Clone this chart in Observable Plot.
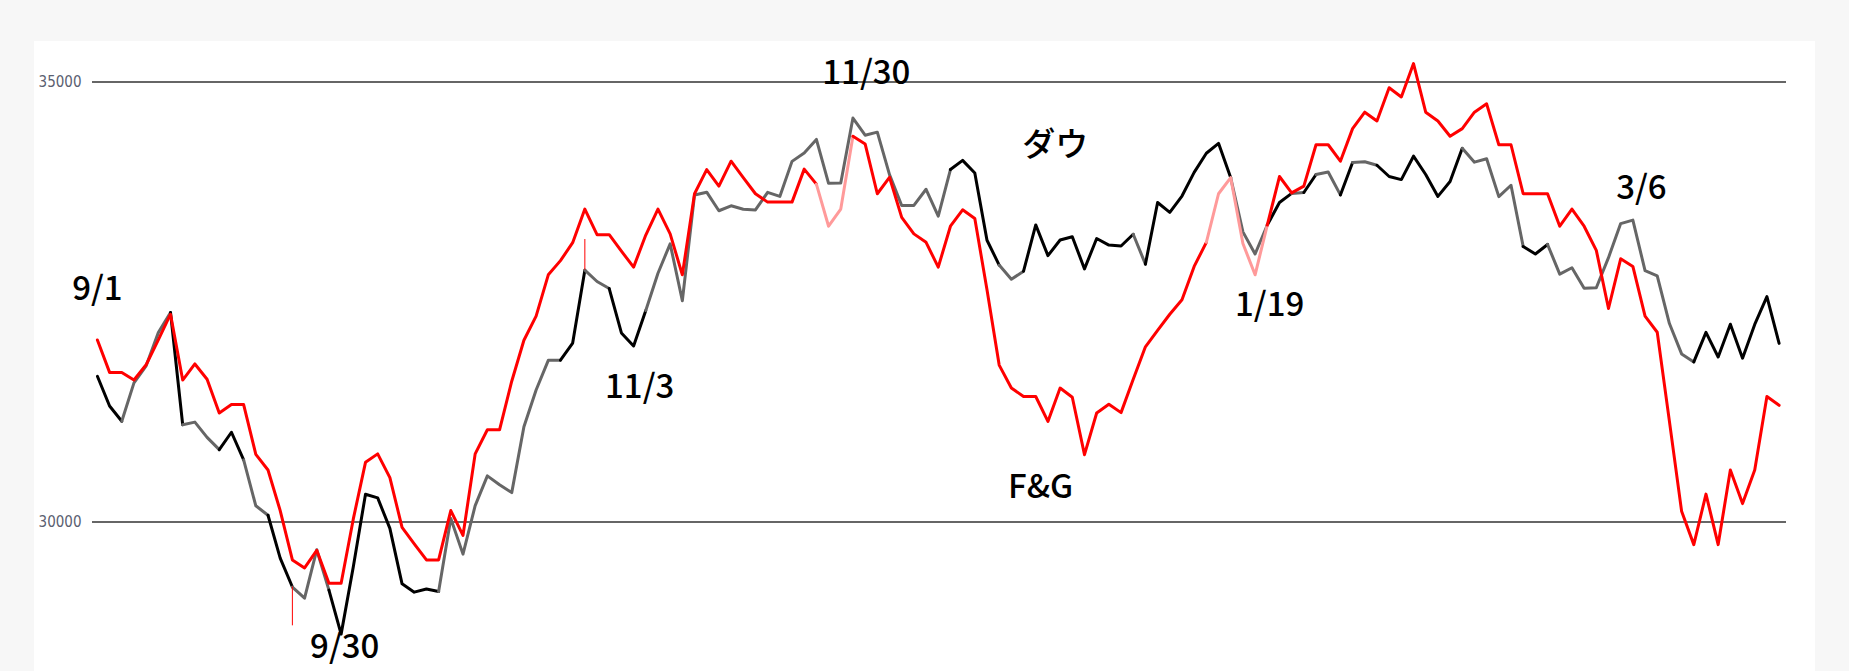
<!DOCTYPE html>
<html><head><meta charset="utf-8">
<script src="https://cdn.jsdelivr.net/npm/d3@7"></script>
<script src="https://cdn.jsdelivr.net/npm/@observablehq/plot@0.6"></script>
<style>
html,body{margin:0;padding:0;background:#f7f7f7;width:1849px;height:671px;overflow:hidden}
#panel{position:absolute;left:34px;top:41px;width:1781px;height:630px;background:#fff}
#chart{position:absolute;left:0;top:0}
</style></head><body><div id="panel"></div><div id="chart"></div>
<script>
// Trading days 2022-09-01 .. 2023-03-22
const dates = [
"9/1","9/2","9/6","9/7","9/8","9/9","9/12","9/13","9/14","9/15","9/16","9/19","9/20","9/21","9/22","9/23","9/26","9/27","9/28","9/29","9/30",
"10/3","10/4","10/5","10/6","10/7","10/10","10/11","10/12","10/13","10/14","10/17","10/18","10/19","10/20","10/21","10/24","10/25","10/26","10/27","10/28","10/31",
"11/1","11/2","11/3","11/4","11/7","11/8","11/9","11/10","11/11","11/14","11/15","11/16","11/17","11/18","11/21","11/22","11/23","11/25","11/28","11/29","11/30",
"12/1","12/2","12/5","12/6","12/7","12/8","12/9","12/12","12/13","12/14","12/15","12/16","12/19","12/20","12/21","12/22","12/23","12/27","12/28","12/29","12/30",
"1/3","1/4","1/5","1/6","1/9","1/10","1/11","1/12","1/13","1/17","1/18","1/19","1/20","1/23","1/24","1/25","1/26","1/27","1/30","1/31",
"2/1","2/2","2/3","2/6","2/7","2/8","2/9","2/10","2/13","2/14","2/15","2/16","2/17","2/21","2/22","2/23","2/24","2/27","2/28",
"3/1","3/2","3/3","3/6","3/7","3/8","3/9","3/10","3/13","3/14","3/15","3/16","3/17","3/20","3/21","3/22"];

// ダウ (Dow close)
const dow = [
31656,31318,31145,31581,31775,32152,32381,31105,31135,30962,30822,31020,30706,30184,30077,29590,29261,29135,29684,29226,28726,
29491,30316,30274,29927,29297,29203,29239,29211,30039,29635,30186,30524,30424,30334,31083,31500,31837,31839,32033,32862,32733,
32653,32148,32001,32403,32827,33161,32514,33715,33748,33537,33593,33554,33546,33746,33700,34098,34194,34347,33849,33853,34590,
34395,34430,33947,33596,33598,33781,33476,34005,34109,33966,33202,32920,32758,32850,33376,33027,33204,33242,32876,33221,33147,
33136,33270,32930,33631,33518,33704,33973,34190,34303,33911,33297,33045,33375,33630,33734,33744,33949,33978,33717,34086,
34093,34054,33926,33891,34157,33949,33700,33869,34246,34089,34128,33697,33827,33130,33045,33154,32817,32889,32657,
32662,33004,33391,33431,32856,32798,32255,31910,31819,32155,31875,32247,31862,32245,32561,32030];

// F&G (Fear & Greed, drawn on the Dow axis)
const fg = [
32069,31700,31700,31613,31787,32069,32361,31613,31796,31622,31239,31335,31335,30769,30591,30130,29569,29478,29678,29304,29304,
30035,30678,30774,30504,29939,29752,29569,29569,30130,29848,30774,31048,31048,31600,32065,32339,32809,32970,33174,33556,33265,
33265,33078,32896,33261,33556,33274,32809,33730,34004,33817,34100,33913,33730,33635,33635,33635,34010,33839,33361,33556,34383,
34296,33730,33917,33461,33274,33178,32896,33361,33548,33448,32640,31783,31522,31426,31426,31143,31522,31417,30765,31239,31339,
31243,31622,31991,32178,32361,32526,32904,33178,33730,33913,33165,32809,33374,33926,33740,33817,34287,34287,34100,34470,
34657,34557,34935,34830,35209,34657,34557,34383,34470,34657,34752,34287,34287,33730,33730,33730,33361,33556,33361,
33087,32426,32991,32904,32339,32156,31143,30122,29743,30317,29743,30591,30209,30591,31426,31326];

const tickValues = [30000, 35000];

// Annotations: text anchored at (day index, value)
const labels = [
  {text: "9/1",   i: 0,     v: 32520},
  {text: "9/30",  i: 20.3,  v: 28450},
  {text: "11/3",  i: 44.5,  v: 31410},
  {text: "11/30", i: 63.1,  v: 34975},
  {text: "ダウ",  i: 78.6,  v: 34160},
  {text: "F&G",   i: 77.4,  v: 30270},
  {text: "1/19",  i: 96.2,  v: 32340},
  {text: "3/6",   i: 126.7, v: 33670}
];
// thin red marker strokes seen in the picture
const markers = [
  {i: 16, v1: 29261, v2: 28820},
  {i: 40, v1: 32862, v2: 33210}
];

// segment colour runs (style): segments [a,b) drawn in the alternate colour
const dowGray = [[2,6],[7,10],[12,14],[16,19],[28,38],[40,42],[45,58],[58,70],[74,76],[85,86],[93,96],[98,99],[100,102],[103,105],[112,117],[119,131]];
const fgPink = [[59,62],[91,96]];

function runs(values, alt, base, altColor, key) {
  const n = values.length;
  const isAlt = s => alt.some(([a, b]) => s >= a && s < b);
  const rows = [];
  let start = 0, run = 0;
  for (let s = 0; s < n - 1; s++) {
    const c = isAlt(s);
    const next = s + 1 < n - 1 ? isAlt(s + 1) : null;
    if (next !== c) {
      for (let k = start; k <= s + 1; k++) rows.push({i: k, v: values[k], z: key + run, c: c ? altColor : base});
      run++; start = s + 1;
    }
  }
  return rows;
}

const dowRows = runs(dow, dowGray, "#000", "#666", "d");
const fgRows = runs(fg, fgPink, "#ff0000", "#ff9a9a", "f");

const chart = Plot.plot({
  width: 1849, height: 671,
  marginLeft: 92, marginRight: 63, marginTop: 0, marginBottom: 0,
  style: {background: "transparent", overflow: "visible"},
  x: {domain: [0, dates.length - 1], range: [96.9, 1778.6], axis: null},
  y: {domain: [30000, 35000], range: [521.5, 81.5], axis: null},
  color: {type: "identity"},
  marks: [
    Plot.ruleY(tickValues, {stroke: "#333", strokeWidth: 1.5}),
    Plot.text(tickValues, {y: d => d, text: d => String(d), frameAnchor: "left", textAnchor: "end", dx: -11,
      fill: "#5a6070", fontSize: 15, fontFamily: "'Liberation Sans Narrow','DejaVu Sans Condensed',sans-serif"}),
    Plot.line(dowRows, {x: "i", y: "v", z: "z", stroke: "c", strokeWidth: 3, strokeLinejoin: "round", strokeLinecap: "round"}),
    Plot.ruleX(markers, {x: "i", y1: "v1", y2: "v2", stroke: "#ff0000", strokeWidth: 1}),
    Plot.line(fgRows, {x: "i", y: "v", z: "z", stroke: "c", strokeWidth: 3, strokeLinejoin: "round", strokeLinecap: "round"}),
    Plot.text(labels, {x: "i", y: "v", text: "text", textAnchor: "middle", lineAnchor: "bottom",
      fill: "#000", fontSize: 33, fontWeight: 500, fontFamily: "'Noto Sans CJK JP','Noto Sans',sans-serif"})
  ]
});
document.getElementById("chart").appendChild(chart);
</script>
</body></html>
